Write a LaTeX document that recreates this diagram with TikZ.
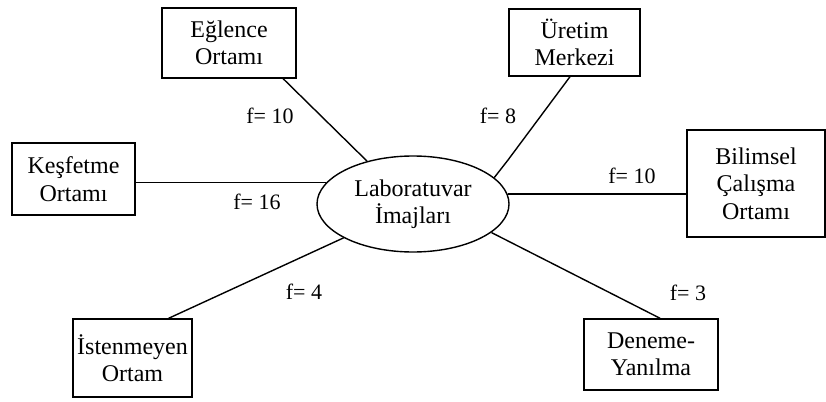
\documentclass[tikz,border=0pt]{standalone}
\usepackage{fontspec}
\setmainfont{Liberation Serif}
\usetikzlibrary{shapes.geometric,calc}
\begin{document}
\begin{tikzpicture}[x=1pt,y=-1pt,
  box/.style={draw,line width=1.4pt,rectangle,inner sep=0pt,align=center,font=\fontsize{24}{27.5}\selectfont},
  oval/.style={draw,line width=1.4pt,ellipse,inner sep=0pt,minimum width=192pt,minimum height=96pt,align=center,font=\fontsize{24}{27.5}\selectfont},
  conn/.style={line width=1.4pt},
  flab/.style={font=\fontsize{22}{24}\selectfont,inner sep=0pt}]
\useasboundingbox (0,0) rectangle (826,401);
\node[oval] (lab) at (413,204) {Laboratuvar\\İmajları};
\node[box,minimum width=134pt,minimum height=70pt] (egl) at (229,43) {Eğlence\\Ortamı};
\node[box,minimum width=131pt,minimum height=67pt] (ure) at (574.5,42.5) {Üretim\\Merkezi};
\node[box,minimum width=123pt,minimum height=72pt] (kes) at (73.5,179) {Keşfetme\\Ortamı};
\node[box,minimum width=138pt,minimum height=107pt] (bil) at (756,183.5) {Bilimsel\\Çalışma\\Ortamı};
\node[box,minimum width=119pt,minimum height=78pt] (ist) at (132.5,358) {İstenmeyen\\Ortam};
\node[box,minimum width=134pt,minimum height=71pt] (den) at (651,354.5) {Deneme-\\Yanılma};
\coordinate (urek) at (508,160);
\draw[conn] ($(egl.south west)!0.9!(egl.south east)$) -- (lab.137);
\draw[conn] ($(ure.south west)!0.466!(ure.south east)$) -- (urek) -- (lab.18);
\draw[conn] (lab.166) -- (lab.166 -| kes.east);
\draw[conn] (lab.6) -- (lab.6 -| bil.west);
\draw[conn] ($(ist.north west)!0.8!(ist.north east)$) -- (lab.206.6);
\draw[conn] (lab.340.5) -- ($(den.north west)!0.567!(den.north east)$);
\node[flab] (f1) at (270,116) {f= 10};
\node[flab] (f2) at (498,116) {f= 8};
\node[flab] (f3) at (632,176) {f= 10};
\node[flab] (f4) at (257,202) {f= 16};
\node[flab] (f5) at (304,292) {f= 4};
\node[flab] (f6) at (688,293) {f= 3};
\end{tikzpicture}
\end{document}
